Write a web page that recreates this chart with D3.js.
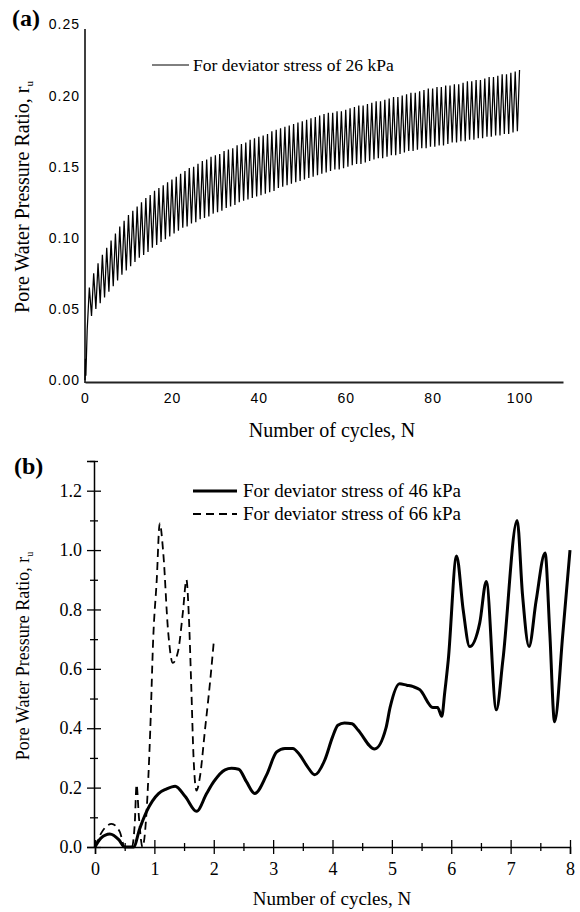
<!DOCTYPE html>
<html>
<head>
<meta charset="utf-8">
<script src="https://cdn.jsdelivr.net/npm/d3@7"></script>
<style>
  html, body { margin: 0; padding: 0; background: #fff; }
  svg { display: block; }
</style>
</head>
<body>
<svg id="chart" width="580" height="912"></svg>
<script>
// ---------- Panel (a): 26 kPa, peaks and troughs of each cycle ----------
const startN26 = [0, 0.1, 0.2];
const startR26 = [0, 0.015, 0.003];
const peaks26 = [
  0.065, 0.075, 0.082, 0.088, 0.093, 0.098, 0.103, 0.108, 0.112, 0.116,
  0.119, 0.122, 0.125, 0.128, 0.130, 0.133, 0.135, 0.137, 0.139, 0.141,
  0.143, 0.145, 0.147, 0.149, 0.150, 0.152, 0.154, 0.155, 0.157, 0.158,
  0.159, 0.161, 0.162, 0.163, 0.165, 0.166, 0.167, 0.169, 0.170, 0.171,
  0.172, 0.173, 0.175, 0.176, 0.177, 0.178, 0.179, 0.180, 0.181, 0.182,
  0.183, 0.184, 0.185, 0.186, 0.187, 0.188, 0.188, 0.189, 0.189, 0.190,
  0.191, 0.192, 0.193, 0.193, 0.194, 0.195, 0.196, 0.196, 0.197, 0.198,
  0.199, 0.199, 0.200, 0.201, 0.202, 0.202, 0.203, 0.204, 0.205, 0.205,
  0.206, 0.206, 0.207, 0.207, 0.208, 0.208, 0.209, 0.210, 0.210, 0.211,
  0.211, 0.212, 0.213, 0.213, 0.214, 0.215, 0.215, 0.216, 0.217, 0.218
];
const troughs26 = [
  0.035, 0.045, 0.050, 0.054, 0.058, 0.062, 0.066, 0.070, 0.074, 0.077,
  0.080, 0.083, 0.086, 0.088, 0.090, 0.093, 0.095, 0.097, 0.099, 0.101,
  0.103, 0.105, 0.107, 0.108, 0.110, 0.111, 0.113, 0.114, 0.115, 0.117,
  0.118, 0.119, 0.121, 0.122, 0.123, 0.125, 0.126, 0.127, 0.128, 0.129,
  0.130, 0.131, 0.132, 0.133, 0.135, 0.136, 0.137, 0.138, 0.139, 0.140,
  0.141, 0.142, 0.143, 0.144, 0.145, 0.146, 0.147, 0.148, 0.148, 0.149,
  0.150, 0.151, 0.152, 0.152, 0.153, 0.154, 0.155, 0.156, 0.156, 0.157,
  0.158, 0.158, 0.159, 0.160, 0.161, 0.161, 0.162, 0.163, 0.163, 0.164,
  0.164, 0.165, 0.165, 0.166, 0.167, 0.167, 0.168, 0.168, 0.169, 0.169,
  0.170, 0.170, 0.171, 0.171, 0.172, 0.172, 0.173, 0.173, 0.174, 0.175
];
const xTicksA = [0, 20, 40, 60, 80, 100];
const yTicksA = [0, 0.05, 0.10, 0.15, 0.20, 0.25];

// ---------- Panel (b): 46 kPa and 66 kPa ----------
const n46 = [0, 0.1, 0.25, 0.4, 0.5, 0.65, 0.75, 0.87, 1.07, 1.2, 1.35, 1.52, 1.71, 1.88, 2.0,
  2.19, 2.3, 2.42, 2.55, 2.69, 2.89, 3.06, 3.2, 3.33, 3.45, 3.58, 3.70, 3.87, 4.0, 4.09,
  4.2, 4.33, 4.43, 4.71, 4.9, 4.97, 5.13, 5.25, 5.36, 5.47, 5.69, 5.77, 5.84, 5.89, 5.95,
  6.09, 6.2, 6.31, 6.48, 6.59, 6.76, 6.87, 7.11, 7.2, 7.31, 7.43, 7.58, 7.66, 7.74, 7.88, 8.0];
const r46 = [0, 0.03, 0.044, 0.025, 0, 0, 0.06, 0.12, 0.18, 0.195, 0.205, 0.17, 0.12, 0.18, 0.22,
  0.26, 0.265, 0.262, 0.22, 0.18, 0.243, 0.32, 0.332, 0.332, 0.31, 0.27, 0.243, 0.293, 0.37, 0.41,
  0.418, 0.415, 0.394, 0.33, 0.40, 0.47, 0.55, 0.545, 0.54, 0.53, 0.47, 0.47, 0.44, 0.52, 0.63,
  0.98, 0.80, 0.675, 0.755, 0.894, 0.462, 0.63, 1.10, 0.85, 0.675, 0.83, 0.99, 0.72, 0.422, 0.72, 1.0];
const n66 = [0, 0.1, 0.28, 0.42, 0.5, 0.62, 0.67, 0.70, 0.74, 0.80, 0.87, 0.93, 0.98, 1.04, 1.09,
  1.15, 1.23, 1.31, 1.40, 1.48, 1.54, 1.58, 1.62, 1.66, 1.71, 1.77, 1.85, 1.94, 2.0];
const r66 = [0, 0.045, 0.078, 0.05, 0, 0, 0.08, 0.21, 0.10, 0.0, 0.125, 0.39, 0.70, 0.9, 1.09,
  0.99, 0.73, 0.62, 0.66, 0.79, 0.90, 0.78, 0.55, 0.30, 0.19, 0.24, 0.39, 0.56, 0.69];
const xTicksB = [0, 1, 2, 3, 4, 5, 6, 7, 8];
const xMinorB = [0.5, 1.5, 2.5, 3.5, 4.5, 5.5, 6.5, 7.5];
const yTicksB = [0, 0.2, 0.4, 0.6, 0.8, 1.0, 1.2];
const yMinorB = [0.1, 0.3, 0.5, 0.7, 0.9, 1.1, 1.3];

const legendA = ["For deviator stress of 26 kPa"];
const legendB = ["For deviator stress of 46 kPa", "For deviator stress of 66 kPa"];

const SERIF = "'Liberation Serif', 'Times New Roman', serif";
const SANS = "'Liberation Sans', Arial, sans-serif";

const svg = d3.select("#chart");
svg.append("rect").attr("width", 580).attr("height", 912).attr("fill", "#fff");

// ================= Panel (a) =================
{
  const x = d3.scaleLinear().domain([0, 110]).range([85, 563]);
  const y = d3.scaleLinear().domain([0, 0.25]).range([380, 24.5]);
  const g = svg.append("g");

  const pts = startN26.map((n, i) => [n, startR26[i]]);
  peaks26.forEach((p, i) => {
    pts.push([i + 0.5, troughs26[i]]);
    pts.push([i + 1, p]);
  });
  g.append("path")
    .datum(pts)
    .attr("fill", "none")
    .attr("stroke", "#000")
    .attr("stroke-width", 1.25)
    .attr("d", d3.line().x(d => x(d[0])).y(d => y(d[1])));

  const ax = g.append("g").attr("transform", "translate(0,382)")
    .call(d3.axisBottom(x).tickValues(xTicksA).tickSize(0).tickPadding(11).tickFormat(d3.format("d")));
  ax.select(".domain").attr("stroke", "#222").attr("stroke-width", 2);
  ax.selectAll("text").attr("font-family", SANS).attr("font-size", 14).attr("letter-spacing", 1).attr("fill", "#000");

  const ay = g.append("g").attr("transform", "translate(85,0)")
    .call(d3.axisLeft(y).tickValues(yTicksA).tickSize(0).tickPadding(5).tickFormat(d3.format(".2f")));
  ay.select(".domain").remove();
  ay.selectAll("text").attr("font-family", SANS).attr("font-size", 14).attr("letter-spacing", 1).attr("fill", "#000");
  g.append("line").attr("x1", 85).attr("x2", 85).attr("y1", 29).attr("y2", 383)
    .attr("stroke", "#000").attr("stroke-width", 1.5);

  g.append("text").attr("x", 332).attr("y", 437).attr("text-anchor", "middle")
    .attr("font-family", SERIF).attr("font-size", 20).text("Number of cycles, N");
  const yt = g.append("text").attr("transform", "translate(29,197) rotate(-90)")
    .attr("text-anchor", "middle").attr("font-family", SERIF).attr("font-size", 20);
  yt.append("tspan").text("Pore Water Pressure Ratio, r");
  yt.append("tspan").attr("font-size", 11).attr("dy", 4).text("u");
  g.append("text").attr("x", 12).attr("y", 26).attr("font-family", SERIF)
    .attr("font-weight", "bold").attr("font-size", 24).text("(a)");

  g.append("line").attr("x1", 152).attr("x2", 189).attr("y1", 65).attr("y2", 65)
    .attr("stroke", "#000").attr("stroke-width", 1);
  g.append("text").attr("x", 193).attr("y", 70.5).attr("font-family", SERIF)
    .attr("font-size", 17.5).text(legendA[0]);
}

// ================= Panel (b) =================
{
  const x = d3.scaleLinear().domain([0, 8]).range([95, 570]);
  const y = d3.scaleLinear().domain([0, 1.3]).range([847, 461]);
  const g = svg.append("g");

  const line = d3.line().curve(d3.curveMonotoneX).x(d => x(d[0])).y(d => y(d[1]));

  g.append("path").datum(n66.map((n, i) => [n, r66[i]]))
    .attr("fill", "none").attr("stroke", "#000").attr("stroke-width", 1.8)
    .attr("stroke-dasharray", "8,5").attr("d", line);
  g.append("path").datum(n46.map((n, i) => [n, r46[i]]))
    .attr("fill", "none").attr("stroke", "#000").attr("stroke-width", 3)
    .attr("stroke-linejoin", "round").attr("d", line);

  const ax = g.append("g").attr("transform", "translate(0,847)")
    .call(d3.axisBottom(x).tickValues(xTicksB).tickSize(7).tickPadding(8).tickFormat(d3.format("d")));
  ax.selectAll(".tick line").attr("y1", -7).attr("stroke-width", 1.3);
  ax.select(".domain").attr("stroke-width", 1.5);
  ax.selectAll("text").attr("font-family", SERIF).attr("font-size", 18).attr("fill", "#000");
  const axm = g.append("g").attr("transform", "translate(0,847)")
    .call(d3.axisBottom(x).tickValues(xMinorB).tickSize(4).tickFormat(""));
  axm.select(".domain").remove();
  axm.selectAll(".tick line").attr("y1", -4).attr("stroke-width", 1.3);

  const ay = g.append("g").attr("transform", "translate(94,0)")
    .call(d3.axisLeft(y).tickValues(yTicksB).tickSize(7).tickPadding(5).tickFormat(d3.format(".1f")));
  ay.selectAll(".tick line").attr("x1", 7).attr("stroke-width", 1.3);
  ay.select(".domain").attr("stroke-width", 1.5);
  ay.selectAll("text").attr("font-family", SERIF).attr("font-size", 18).attr("fill", "#000");
  const aym = g.append("g").attr("transform", "translate(94,0)")
    .call(d3.axisLeft(y).tickValues(yMinorB).tickSize(4).tickFormat(""));
  aym.select(".domain").remove();
  aym.selectAll(".tick line").attr("x1", 4).attr("stroke-width", 1.3);

  g.append("text").attr("x", 332).attr("y", 905).attr("text-anchor", "middle")
    .attr("font-family", SERIF).attr("font-size", 19).text("Number of cycles, N");
  const yt = g.append("text").attr("transform", "translate(29,656) rotate(-90)")
    .attr("text-anchor", "middle").attr("font-family", SERIF).attr("font-size", 18);
  yt.append("tspan").text("Pore Water Pressure Ratio, r");
  yt.append("tspan").attr("font-size", 10).attr("dy", 4).text("u");
  g.append("text").attr("x", 14).attr("y", 474).attr("font-family", SERIF)
    .attr("font-weight", "bold").attr("font-size", 24).text("(b)");

  g.append("line").attr("x1", 193).attr("x2", 237).attr("y1", 491).attr("y2", 491)
    .attr("stroke", "#000").attr("stroke-width", 3);
  g.append("line").attr("x1", 193).attr("x2", 237).attr("y1", 514).attr("y2", 514)
    .attr("stroke", "#000").attr("stroke-width", 1.8).attr("stroke-dasharray", "8,5");
  legendB.forEach((t, i) => {
    g.append("text").attr("x", 243).attr("y", 497 + i * 23).attr("font-family", SERIF)
      .attr("font-size", 19).text(t);
  });
}
</script>
</body>
</html>
